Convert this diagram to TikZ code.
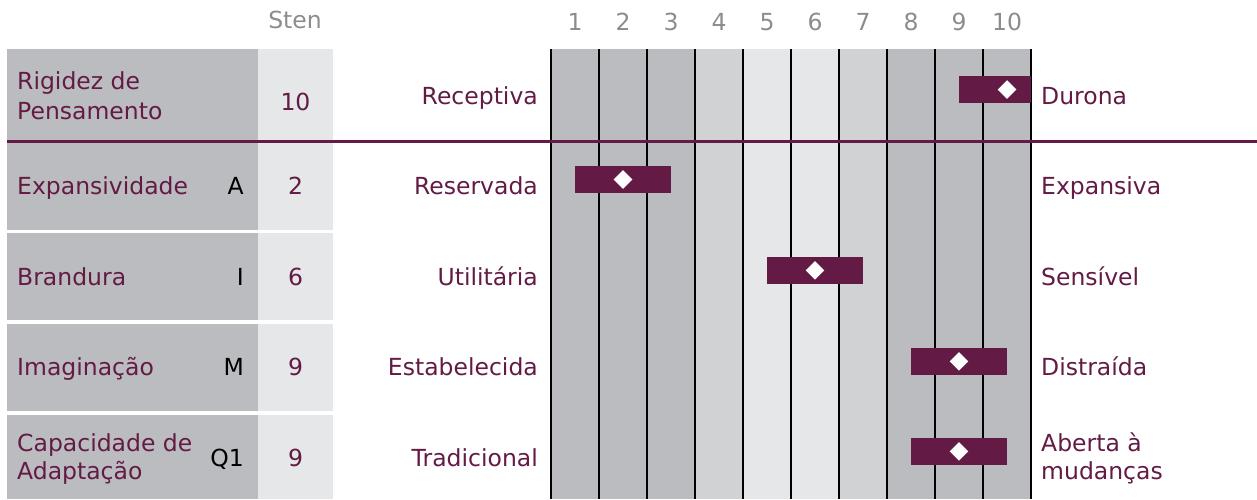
\documentclass[tikz,border=0pt]{standalone}
\usepackage{fontspec}
\setmainfont{DejaVu Sans}
\usetikzlibrary{shapes.geometric}
\definecolor{brand}{HTML}{631B45}
\definecolor{gdark}{HTML}{BBBCBF}
\definecolor{gmid}{HTML}{D1D2D4}
\definecolor{glight}{HTML}{E6E7E8}
\definecolor{headgray}{HTML}{8C8C8C}
\begin{document}
\begin{tikzpicture}[x=1pt,y=-1pt,
  txt/.style={inner sep=0pt, font=\fontsize{23.5}{29.7}\selectfont, text=brand},
  hdr/.style={txt, text=headgray, anchor=base},
  lbl/.style={txt, anchor=base west, align=left},
  fac/.style={txt, anchor=base east, text=black},
  sten/.style={txt, anchor=base},
  pole/.style={txt, anchor=base east},
  poler/.style={txt, anchor=base west, align=left},
  scorebar/.style={fill=brand, inner sep=0pt, minimum height=27pt},
  scoredot/.style={diamond, fill=white, inner sep=0pt, minimum width=18.7pt, minimum height=18.7pt},
  gline/.style={black, line width=1.5pt}]
\useasboundingbox (0,0) rectangle (1257,499);

% grid columns
\foreach \i/\c in {1/gdark,2/gdark,3/gdark,4/gmid,5/glight,6/glight,7/gmid,8/gdark,9/gdark,10/gdark}{
  \fill[\c] ({551+48*(\i-1)},49) rectangle ({551+48*\i},499);
  \node[hdr] (h\i) at ({527+48*\i},30.5) {\i};
}
\foreach \i in {0,...,10}{
  \draw[gline] ({551+48*\i},49) -- ({551+48*\i},499);
}
\node[hdr] (sten) at (295,28.3) {Sten};

% left boxes
\foreach \t/\b in {49/140,143/229.5,233/320.3,324/410.7,415/499}{
  \fill[gdark] (7,\t) rectangle (258,\b);
  \fill[glight] (258,\t) rectangle (333,\b);
}

% row 1
\node[lbl] (l1) at (17,119) {Rigidez de\\Pensamento};
\node[sten] (s1) at (295.5,110) {10};
\node[pole] (p1) at (538,104) {Receptiva};
\node[poler] (q1) at (1041,104) {Durona};
\node[scorebar, minimum width=72pt] (b1) at (995,89.5) {};
\node[scoredot] (m1) at (1007,89.5) {};

% separator line
\draw[brand, line width=3.2pt] (7,141.6) -- (1257,141.6);

% row 2
\node[lbl] (l2) at (17,194.5) {Expansividade};
\node[fac] (f2) at (244,194.5) {A};
\node[sten] (s2) at (295.5,194.5) {2};
\node[pole] (p2) at (538,194.5) {Reservada};
\node[poler] (q2) at (1041,194.5) {Expansiva};
\node[scorebar, minimum width=96pt] (b2) at (623,179.5) {};
\node[scoredot] (m2) at (623,179.5) {};

% row 3
\node[lbl] (l3) at (17,285) {Brandura};
\node[fac] (f3) at (244,285) {I};
\node[sten] (s3) at (295.5,285) {6};
\node[pole] (p3) at (538,285) {Utilitária};
\node[poler] (q3) at (1041,285) {Sensível};
\node[scorebar, minimum width=96pt] (b3) at (815,270.3) {};
\node[scoredot] (m3) at (815,270.3) {};

% row 4
\node[lbl] (l4) at (17,375) {Imaginação};
\node[fac] (f4) at (244,375) {M};
\node[sten] (s4) at (295.5,375) {9};
\node[pole] (p4) at (538,375) {Estabelecida};
\node[poler] (q4) at (1041,375) {Distraída};
\node[scorebar, minimum width=96pt] (b4) at (959,361.3) {};
\node[scoredot] (m4) at (959,361.3) {};

% row 5
\node[lbl, font=\fontsize{23.5}{27.6}\selectfont] (l5) at (17,479.3) {Capacidade de\\Adaptação};
\node[fac] (f5) at (244,466) {Q1};
\node[sten] (s5) at (295.5,466) {9};
\node[pole] (p5) at (538,466) {Tradicional};
\node[poler, font=\fontsize{23.5}{27.6}\selectfont] (q5) at (1041,479.3) {Aberta à\\mudanças};
\node[scorebar, minimum width=96pt] (b5) at (959,451.3) {};
\node[scoredot] (m5) at (959,451.3) {};
\end{tikzpicture}
\end{document}
